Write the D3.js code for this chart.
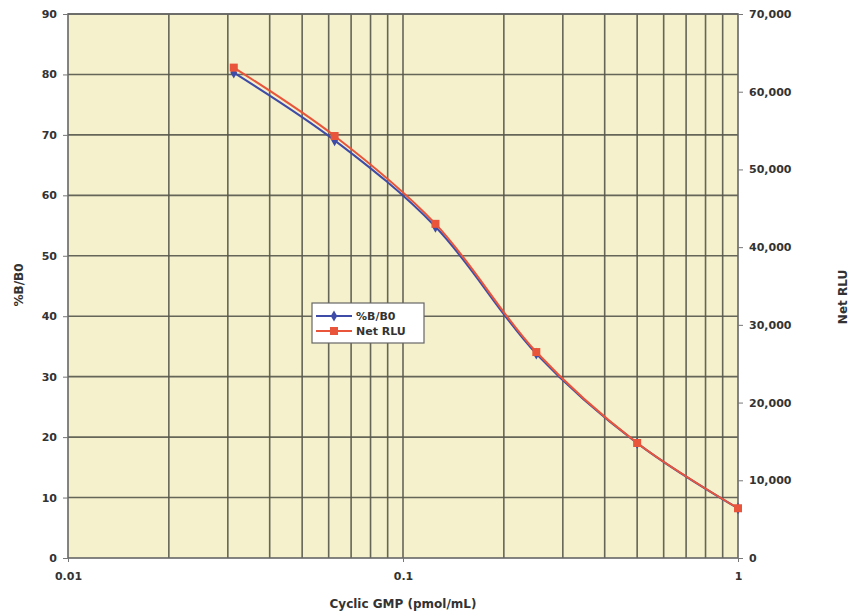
<!DOCTYPE html>
<html>
<head>
<meta charset="utf-8">
<script src="https://cdn.jsdelivr.net/npm/d3@7"></script>
<style>
  body { margin: 0; background: #fff; }
  text { font-family: "DejaVu Sans", sans-serif; font-weight: bold; fill: #333; }
</style>
</head>
<body>
<svg id="chart" width="852" height="614"></svg>
<script>
// concentrations (pmol/mL)
const conc = [0.03125, 0.0625, 0.125, 0.25, 0.5, 1]
// %B/B0 (left axis)
const pctB = [80.3, 69.1, 54.8, 33.8, 19.0, 8.2]
// Net RLU (right axis)
const netRLU = [63100, 54300, 43000, 26500, 14800, 6400]

const xTicks = [0.01, 0.1, 1]
const leftTicks = d3.range(0, 91, 10)
const rightTicks = d3.range(0, 70001, 10000)

const M = { left: 68, right: 738, top: 14, bottom: 558 }

const svg = d3.select('#chart')

const x = d3.scaleLog().domain([0.01, 1]).range([M.left, M.right])
const yL = d3.scaleLinear().domain([0, 90]).range([M.bottom, M.top])
const yR = d3.scaleLinear().domain([0, 70000]).range([M.bottom, M.top])

// plot background
svg.append('rect')
  .attr('x', M.left).attr('y', M.top)
  .attr('width', M.right - M.left).attr('height', M.bottom - M.top)
  .attr('fill', '#f4f1cc')

// grid lines, every log minor tick
const minor = []
for (let d = 0.01; d < 1; d *= 10) {
  for (let k = 1; k <= 9; k++) minor.push(+(d * k).toPrecision(3))
}
svg.append('g').selectAll('line')
  .data(minor.filter(v => v > 0.01))
  .enter().append('line')
  .attr('x1', d => x(d)).attr('x2', d => x(d))
  .attr('y1', M.top).attr('y2', M.bottom)
  .attr('stroke', '#57574c').attr('stroke-width', 1.6).attr('opacity', 0.9)

svg.append('g').selectAll('line')
  .data(leftTicks.filter(v => v > 0))
  .enter().append('line')
  .attr('x1', M.left).attr('x2', M.right)
  .attr('y1', d => yL(d)).attr('y2', d => yL(d))
  .attr('stroke', '#57574c').attr('stroke-width', 1.6).attr('opacity', 0.9)

// frame
svg.append('rect')
  .attr('x', M.left).attr('y', M.top)
  .attr('width', M.right - M.left).attr('height', M.bottom - M.top)
  .attr('fill', 'none').attr('stroke', '#666').attr('stroke-width', 1.6)

// axes
const styleAxis = g => {
  g.select('.domain').remove()
  g.selectAll('line').attr('stroke', '#777')
  g.selectAll('text').style('font-size', '11px').attr('fill', '#333')
}

svg.append('g')
  .attr('transform', `translate(${M.left},0)`)
  .call(d3.axisLeft(yL).tickValues(leftTicks).tickSize(5).tickPadding(6))
  .call(styleAxis)

svg.append('g')
  .attr('transform', `translate(${M.right},0)`)
  .call(d3.axisRight(yR).tickValues(rightTicks).tickSize(5).tickPadding(6)
    .tickFormat(d3.format(',')))
  .call(styleAxis)

svg.append('g')
  .attr('transform', `translate(0,${M.bottom})`)
  .call(d3.axisBottom(x).tickValues(xTicks).tickSize(4).tickPadding(10)
    .tickFormat(d => String(d)))
  .call(styleAxis)

// axis titles
svg.append('text')
  .attr('transform', `translate(23,285) rotate(-90)`)
  .attr('text-anchor', 'middle')
  .style('font-size', '12px')
  .text('%B/B0')

svg.append('text')
  .attr('transform', `translate(847,297) rotate(-90)`)
  .attr('text-anchor', 'middle')
  .style('font-size', '12px')
  .text('Net RLU')

svg.append('text')
  .attr('x', 403).attr('y', 608)
  .attr('text-anchor', 'middle')
  .style('font-size', '12px')
  .text('Cyclic GMP (pmol/mL)')

// series
const blue = '#3e4ca8'
const red = '#e8553a'

const lineL = d3.line()
  .x((d, i) => x(conc[i])).y(d => yL(d))
  .curve(d3.curveCatmullRom.alpha(0.5))
const lineR = d3.line()
  .x((d, i) => x(conc[i])).y(d => yR(d))
  .curve(d3.curveCatmullRom.alpha(0.5))

svg.append('path')
  .attr('d', lineL(pctB))
  .attr('fill', 'none').attr('stroke', blue).attr('stroke-width', 2)

svg.append('g').selectAll('path')
  .data(pctB)
  .enter().append('path')
  .attr('d', d3.symbol(d3.symbolDiamond, 40))
  .attr('transform', (d, i) => `translate(${x(conc[i])},${yL(d)})`)
  .attr('fill', blue)

svg.append('path')
  .attr('d', lineR(netRLU))
  .attr('fill', 'none').attr('stroke', red).attr('stroke-width', 2)

svg.append('g').selectAll('rect')
  .data(netRLU)
  .enter().append('rect')
  .attr('x', (d, i) => x(conc[i]) - 4)
  .attr('y', d => yR(d) - 4)
  .attr('width', 8).attr('height', 8)
  .attr('fill', red)

// legend
const legend = svg.append('g').attr('transform', 'translate(312,303)')
legend.append('rect')
  .attr('width', 112).attr('height', 40)
  .attr('fill', '#fff').attr('stroke', '#666').attr('stroke-width', 1.2)

const items = [
  { name: '%B/B0', color: blue, mark: 'diamond' },
  { name: 'Net RLU', color: red, mark: 'square' },
]
items.forEach((it, i) => {
  const yy = 13 + i * 15
  legend.append('line')
    .attr('x1', 4).attr('x2', 40).attr('y1', yy).attr('y2', yy)
    .attr('stroke', it.color).attr('stroke-width', 2)
  if (it.mark === 'diamond') {
    legend.append('path')
      .attr('d', d3.symbol(d3.symbolDiamond, 36))
      .attr('transform', `translate(22,${yy})`)
      .attr('fill', it.color)
  } else {
    legend.append('rect')
      .attr('x', 18).attr('y', yy - 4).attr('width', 8).attr('height', 8)
      .attr('fill', it.color)
  }
  legend.append('text')
    .attr('x', 44).attr('y', yy + 4)
    .style('font-size', '11px')
    .text(it.name)
})
</script>
</body>
</html>
